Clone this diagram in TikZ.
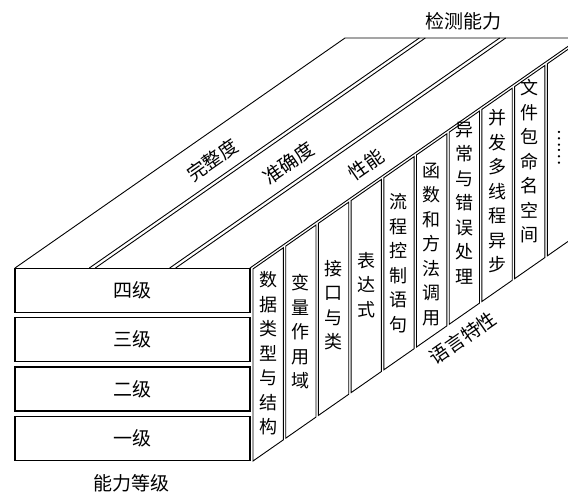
\documentclass[tikz,border=0pt]{standalone}
\usepackage{fontspec}
\newfontfamily\cjk{Noto Sans CJK SC}
\tikzset{
  face/.style={draw=black, line width=0.9pt, line join=miter},
  lvl/.style={draw=black, line width=1.1pt, minimum width=235pt, minimum height=44pt, inner sep=0pt, font=\cjk\fontsize{19}{22}\selectfont},
  lab/.style={inner sep=0pt, font=\cjk\fontsize{19}{22}\selectfont},
  coltext/.style={inner sep=0pt, align=center, font=\cjk\fontsize{18}{24.5}\selectfont},
}
\begin{document}
\begin{tikzpicture}[x=1pt,y=-1pt]
\useasboundingbox (0,0) rectangle (568,493);
\clip (0,0) rectangle (568,493);
% top face with three strips
\draw[face] (15,268) -- (345,38) -- (580,38) -- (250,268);
\draw[face] (89.3,268) -- (419.3,38);
\draw[face] (95.3,268) -- (425.3,38);
\draw[face] (169.7,268) -- (499.7,38);
\draw[face] (175.7,268) -- (505.7,38);
% right face columns
\foreach \k in {0,...,9} {
  \pgfmathsetmacro\L{253+32.7*\k}
  \pgfmathsetmacro\R{\L+30.3}
  \draw[face] (\L,{271-0.69697*(\L-250)}) -- (\L,{461-0.69697*(\L-253)})
     -- (\R,{461-0.69697*(\R-253)}) -- (\R,{271-0.69697*(\R-250)}) -- cycle;
}
% front face levels
\node[lvl] (l4) at (132.5,290.3) {四级};
\node[lvl] (l3) at (132.5,339.5) {三级};
\node[lvl] (l2) at (132.5,389) {二级};
\node[lvl] (l1) at (132.5,438.7) {一级};
% column texts
\node[coltext] (c1) at (268.15,353.5) {数\\据\\类\\型\\与\\结\\构};
\node[coltext] (c2) at (300.85,332) {变\\量\\作\\用\\域};
\node[coltext] (c3) at (333.55,305) {接\\口\\与\\类};
\node[coltext] (c4) at (366.25,285) {表\\达\\式};
\node[coltext] (c5) at (398.95,263) {流\\程\\控\\制\\语\\句};
\node[coltext] (c6) at (431.65,244.5) {函\\数\\和\\方\\法\\调\\用};
\node[coltext] (c7) at (464.35,203) {异\\常\\与\\错\\误\\处\\理};
\node[coltext] (c8) at (497.05,191.5) {并\\发\\多\\线\\程\\异\\步};
\node[coltext] (c9) at (529.75,161.5) {文\\件\\包\\命\\名\\空\\间};
\node[lab, rotate=-90, font=\cjk\fontsize{17}{20}\selectfont] (c10) at (558.5,147.5) {\raisebox{0pt}[0pt][0pt]{……}};
% strip labels
\node[lab, rotate=34.87] (s1) at (212.3,160.1) {完整度};
\node[lab, rotate=34.87] (s2) at (288.5,163) {准确度};
\node[lab, rotate=34.87] (s3) at (366.3,164.7) {性能};
\node[lab, rotate=34.87] (lang) at (463,338) {语言特性};
% axis labels
\node[lab] (det) at (463,21) {检测能力};
\node[lab] (lev) at (131,483) {能力等级};
\end{tikzpicture}
\end{document}
